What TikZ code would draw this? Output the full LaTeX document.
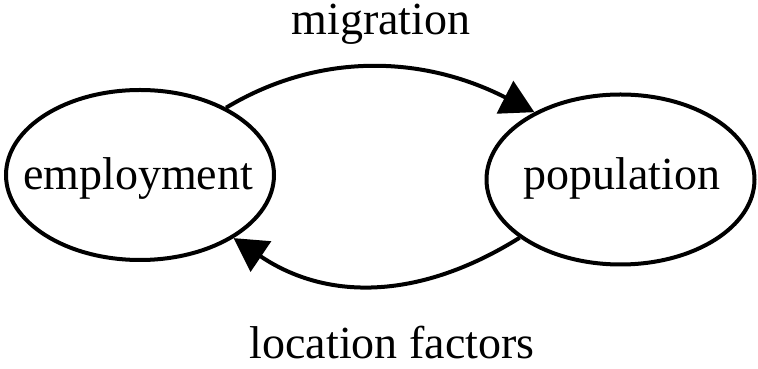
\documentclass[tikz,border=0pt]{standalone}
\usepackage{fontspec}
\setmainfont{Liberation Serif}
\usetikzlibrary{shapes.geometric,arrows.meta}
\begin{document}
\begin{tikzpicture}[x=1pt,y=1pt,
  state/.style={draw,ellipse,line width=4pt,inner sep=0pt,minimum width=268pt,minimum height=170pt},
  lbl/.style={anchor=base,inner sep=0pt,font=\fontsize{46}{55}\selectfont},
  arr/.style={line width=4pt,-{Triangle[length=33pt,width=36pt]}}]
\useasboundingbox (0,0) rectangle (758,369);
\node[state] (emp) at (140,194) {};
\node[state] (pop) at (620.5,189.5) {};
\node[lbl] (empt) at (138,179) {employment};
\node[lbl] (popt) at (622,179) {population};
\node[lbl] (mig) at (381,334) {migration};
\node[lbl] (loc) at (392,10) {location factors};
\draw[arr] (emp.38) to[out=31,in=153,out distance=107pt,in distance=127pt] (pop.142);
\draw[arr] (pop.210) to[out=212,in=326,out distance=115pt,in distance=115pt] (emp.326);
\end{tikzpicture}
\end{document}
